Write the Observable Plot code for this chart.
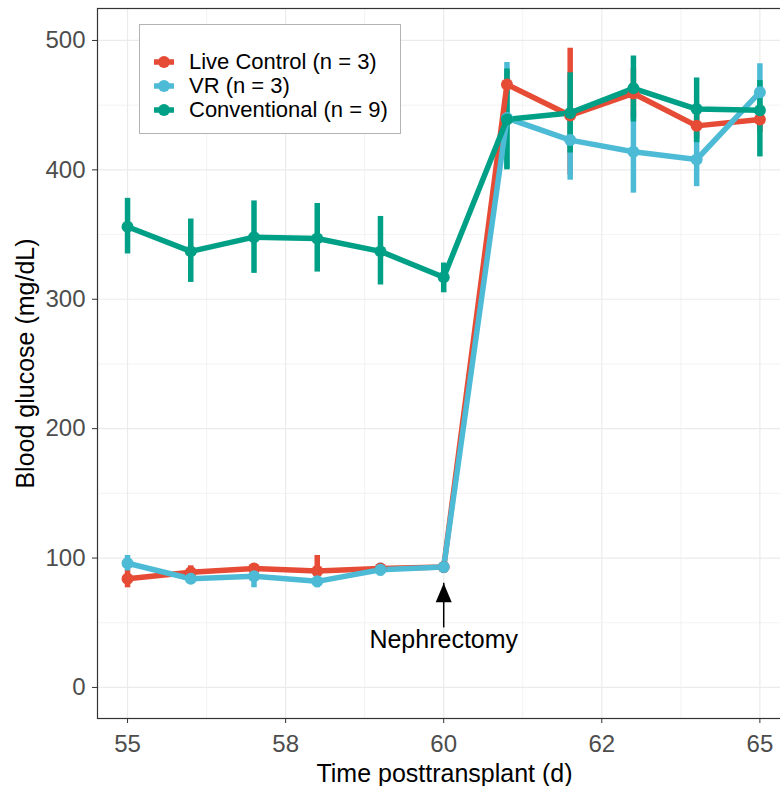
<!DOCTYPE html>
<html>
<head>
<meta charset="utf-8">
<script src="https://cdn.jsdelivr.net/npm/d3@7"></script>
<script src="https://cdn.jsdelivr.net/npm/@observablehq/plot@0.6"></script>
<style>
  html, body { margin: 0; padding: 0; background: #fff; overflow: hidden; }
  #wrap { position: relative; width: 780px; height: 786px; overflow: hidden; }
  #chart svg { max-width: none !important; display: block; }
  #legend {
    position: absolute; left: 139px; top: 24px; width: 262px; height: 110px;
    box-sizing: border-box; border: 1px solid #b3b3b3; background: #fff;
    font-family: "Liberation Sans", Arial, sans-serif; font-size: 22px; color: #000;
    padding-top: 25px;
  }
  .row { display: flex; align-items: center; height: 24px; }
  .row svg { margin-left: 14px; margin-right: 15px; flex: none; }
</style>
</head>
<body>
<div id="wrap"><div id="chart"></div><div id="legend"></div></div>
<script>
// ---- data ----
const days = [55, 56, 57, 58, 59, 60, 61, 62, 63, 64, 65];
const seriesNames = ["Live Control (n = 3)", "VR (n = 3)", "Conventional (n = 9)"];
const seriesColors = ["#E64B35", "#4DBBD5", "#00A087"];

const liveMean = [84, 89, 92, 90, 92, 93, 466, 442, 459, 434, 439];
const liveLo   = [77, 84, 89, 78, 90, 90, 456, 396, 440, 424, 429];
const liveHi   = [91, 94, 95, 102, 94, 96, 476, 494, 478, 444, 449];

const vrMean = [96, 84, 86, 82, 91, 93, 440, 423, 414, 408, 460];
const vrLo   = [90, 80, 77, 77, 86, 88, 401, 392, 382, 387, 438];
const vrHi   = [102, 88, 95, 87, 96, 97, 483, 454, 446, 429, 482];

const convMean = [356, 337, 348, 347, 337, 317, 439, 444, 463, 447, 446];
const convLo   = [335, 313, 320, 321, 311, 305, 400, 413, 437, 421, 410];
const convHi   = [378, 362, 376, 374, 364, 328, 478, 475, 488, 471, 469];

const xTicks = [55, 57.5, 60, 62.5, 65];
const xTickLabels = ["55", "58", "60", "62", "65"];
const xMinor = [56.25, 58.75, 61.25, 63.75];
const yTicks = [0, 100, 200, 300, 400, 500];
const yMinor = [50, 150, 250, 350, 450];

const arrowX = [60];
const arrowTail = [46];
const arrowTip = [80.5];
const arrowLabel = ["Nephrectomy"];
const arrowLabelY = [37];

const xTitle = "Time posttransplant (d)";
const yTitle = "Blood glucose (mg/dL)";

// ---- build table ----
const means = [liveMean, vrMean, convMean];
const los = [liveLo, vrLo, convLo];
const his = [liveHi, vrHi, convHi];
const rows = [];
seriesNames.forEach((s, i) => {
  days.forEach((d, j) => {
    rows.push({day: d, mean: means[i][j], lo: los[i][j], hi: his[i][j], series: s});
  });
});
const arrowData = arrowX.map((x, i) => ({x, tail: arrowTail[i], tip: arrowTip[i], label: arrowLabel[i], ly: arrowLabelY[i]}));

const arrowHead = {
  draw(ctx) {
    ctx.moveTo(0, 0);
    ctx.lineTo(8, 19);
    ctx.lineTo(-8, 19);
    ctx.closePath();
  }
};

const font = "'Liberation Sans', Arial, sans-serif";

const chart = Plot.plot({
  width: 791,
  height: 786,
  marginLeft: 97,
  marginRight: 0,
  marginTop: 8,
  marginBottom: 68,
  x: {domain: [54.525, 65.5]},
  y: {domain: [-24, 524.7]},
  color: {domain: seriesNames, range: seriesColors},
  style: {fontFamily: font, background: "#fff", maxWidth: "none"},
  marks: [
    Plot.gridX(xMinor, {stroke: "#ebebeb", strokeOpacity: 1, strokeWidth: 0.6}),
    Plot.gridY(yMinor, {stroke: "#ebebeb", strokeOpacity: 1, strokeWidth: 0.6}),
    Plot.gridX(xTicks, {stroke: "#ebebeb", strokeOpacity: 1, strokeWidth: 1.2}),
    Plot.gridY(yTicks, {stroke: "#ebebeb", strokeOpacity: 1, strokeWidth: 1.2}),
    Plot.ruleX(rows, {x: "day", y1: "lo", y2: "hi", stroke: "series", strokeWidth: 5.5}),
    Plot.line(rows, {x: "day", y: "mean", z: "series", stroke: "series", strokeWidth: 5.5}),
    Plot.dot(rows, {x: "day", y: "mean", fill: "series", r: 6}),
    Plot.ruleX(arrowData, {x: "x", y1: "tail", y2: "tip", stroke: "#000", strokeWidth: 1.5}),
    Plot.dot(arrowData, {x: "x", y: "tip", symbol: arrowHead, fill: "#000", r: 6}),
    Plot.text(arrowData, {x: "x", y: "ly", text: "label", fontSize: 25, fill: "#000", textAnchor: "middle"}),
    Plot.frame({stroke: "#333", strokeWidth: 1.2}),
    Plot.axisX(xTicks, {
      tickSize: 5, tickPadding: 11, fontSize: 24, stroke: "#333", color: "#4d4d4d",
      tickFormat: (d) => xTickLabels[xTicks.indexOf(d)], label: null
    }),
    Plot.axisY(yTicks, {
      tickSize: 5, tickPadding: 7, fontSize: 24, stroke: "#333", color: "#4d4d4d", label: null
    }),
    Plot.text([xTitle], {frameAnchor: "bottom", dy: 63, fontSize: 25, fill: "#000", textAnchor: "middle"}),
    Plot.text([yTitle], {frameAnchor: "left", dx: -72, rotate: -90, fontSize: 25, fill: "#000", textAnchor: "middle"})
  ]
});
chart.style.maxWidth = "none";
document.getElementById("chart").appendChild(chart);

// ---- legend ----
const legend = document.getElementById("legend");
seriesNames.forEach((name, i) => {
  const row = document.createElement("div");
  row.className = "row";
  row.innerHTML = `<svg width="20" height="24"><line x1="0" x2="20" y1="12" y2="12" stroke="${seriesColors[i]}" stroke-width="5.5"/><circle cx="10" cy="12" r="6" fill="${seriesColors[i]}"/></svg><span>${name}</span>`;
  legend.appendChild(row);
});
</script>
</body>
</html>
